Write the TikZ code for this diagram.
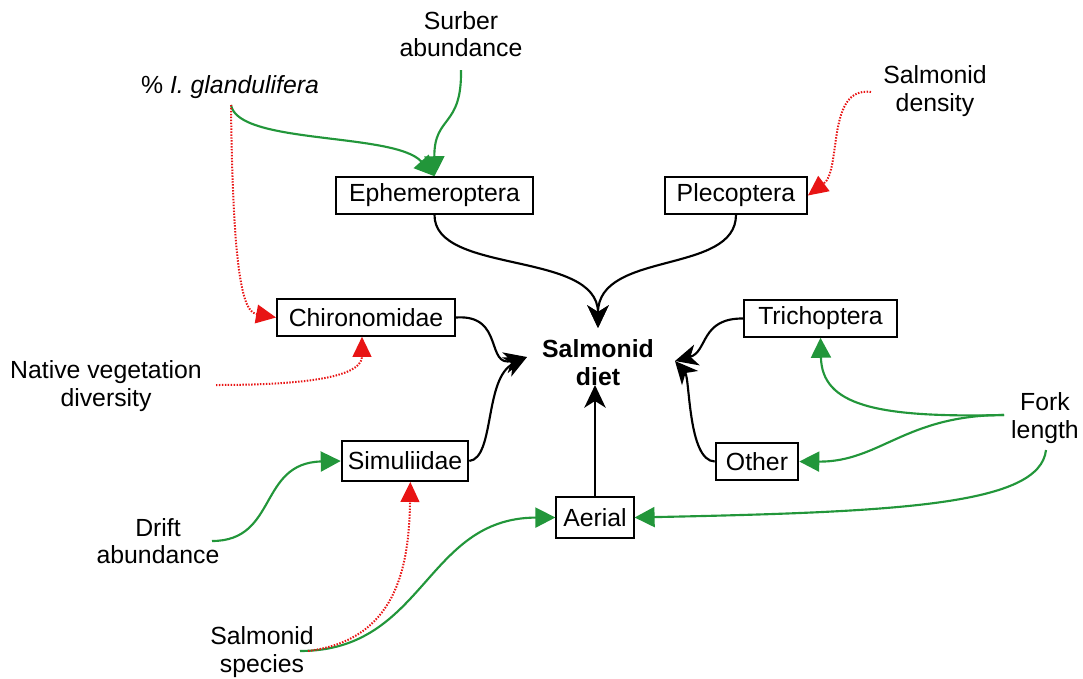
\documentclass[tikz,border=0pt]{standalone}
\usepackage{fontspec}
\setmainfont{Liberation Sans}
\usetikzlibrary{arrows.meta}
\definecolor{fgreen}{RGB}{34,150,58}
\definecolor{fred}{RGB}{232,20,20}
\tikzset{
  box/.style={draw, line width=1.4pt, minimum height=27.5pt, inner xsep=0pt, inner ysep=0pt},
  lbl/.style={align=center, inner sep=0pt},
  blk/.style={line width=1.6pt, -{Stealth[length=17pt,width=16pt,inset=5pt]}},
  grn/.style={draw=fgreen, line width=1.6pt, -{Triangle[length=15pt,width=15pt]}},
  rdd/.style={draw=fred, line width=1.5pt, dash pattern=on 1.1pt off 1.1pt, -{Triangle[length=15pt,width=14pt]}}
}
\begin{document}
\begin{tikzpicture}[x=0.75pt,y=-0.75pt,font=\fontsize{18.6}{20.6}\selectfont]
\useasboundingbox (0,0) rectangle (1083,679);
% labels
\node[lbl] (surber) at (461,34) {Surber\\abundance};
\node[lbl] (gland) at (230,87) {\% \textit{I. glandulifera}};
\node[lbl] (sdens) at (935,91) {Salmonid\\density};
\node[lbl] (native) at (106,386) {Native vegetation\\diversity};
\node[lbl] (fork) at (1045,418) {Fork\\length};
\node[lbl] (drift) at (158,541) {Drift\\abundance};
\node[lbl] (sspec) at (262,652) {Salmonid\\species};
\node[lbl,font=\fontsize{18.6}{21}\selectfont\bfseries] (diet) at (598,363) {Salmonid\\diet};
% boxes
\node[box,minimum width=147.5pt] (eph) at (434.5,195.5) {Ephemeroptera};
\node[box,minimum width=106.5pt] (ple) at (736,195.5) {Plecoptera};
\node[box,minimum width=133.5pt] (chi) at (366,317.5) {Chironomidae};
\node[box,minimum width=114.5pt] (tri) at (820.5,318.5) {Trichoptera};
\node[box,minimum width=95pt,minimum height=30pt] (sim) at (405,461) {Simuliidae};
\node[box,minimum width=62pt] (oth) at (757,461.5) {Other};
\node[box,minimum width=58pt,minimum height=30.5pt] (aer) at (595,517.5) {Aerial};
% coordinates
\coordinate (dtop) at (598,328);
\coordinate (dleft) at (527,357);
\coordinate (dright) at (675,361);
\coordinate (dbot) at (595,385);
\coordinate (gs) at (231,105);
\coordinate (sur) at (461,70);
\coordinate (sd) at (871,92);
\coordinate (nv) at (216,385);
\coordinate (dr) at (212,541);
\coordinate (ssg) at (300,651);
\coordinate (ssr) at (308,651);
\coordinate (fk) at (1004,415);
\coordinate (fk2) at (1046,450);
% black
\draw[blk] (eph.south) .. controls (434,275) and (598,250) .. (dtop);
\draw[blk] (ple.south) .. controls (736,275) and (598,250) .. (dtop);
\draw[blk] (chi.east) .. controls (505,314) and (485,368) .. (dleft);
\draw[blk] (sim.east) .. controls (495,458) and (484,378) .. (dleft);
\draw[blk] (tri.west) .. controls (700,318) and (708,352) .. (dright);
\draw[blk] (oth.west) .. controls (688,461) and (690,378) .. (dright);
\draw[blk] (aer.north) -- (dbot);
% green
\draw[grn] (sur) .. controls (462,128) and (434,115) .. (eph.north);
\draw[grn] (gs) .. controls (238,145) and (395,132) .. (eph.north);
\draw[grn] (dr) .. controls (278,541) and (258,463) .. (sim.west);
\draw[grn] (ssg) .. controls (425,651) and (425,518) .. (aer.west);
\draw[grn] (fk) .. controls (875,418) and (822,405) .. (tri.south);
\draw[grn] (fk) .. controls (905,415) and (880,462) .. (oth.east);
\draw[grn] (fk2) .. controls (1040,505) and (900,512) .. (aer.east);
% red dotted
\draw[rdd] (gs) .. controls (233,290) and (245,312) .. (chi.west);
\draw[rdd] (sd) .. controls (826,86) and (842,170) .. (ple.east);
\draw[rdd] (nv) .. controls (330,385) and (362,372) .. ([xshift=-3pt]chi.south);
\draw[rdd] (ssr) .. controls (395,640) and (409,570) .. ([xshift=4pt]sim.south);
\end{tikzpicture}
\end{document}
